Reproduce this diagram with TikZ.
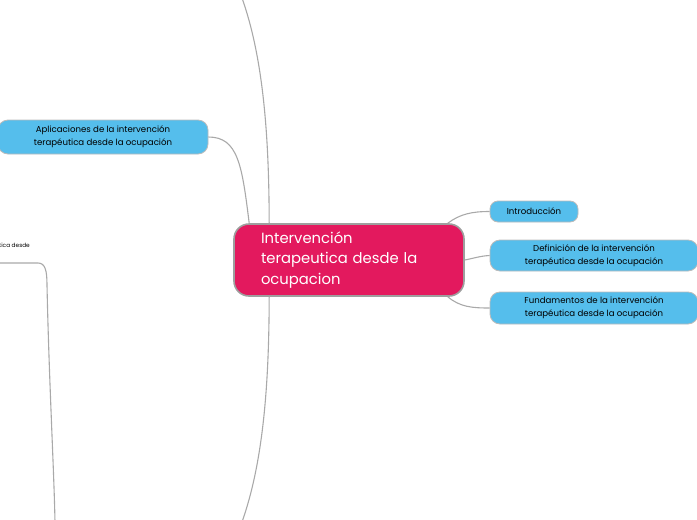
\documentclass[tikz,border=0pt]{standalone}
\usepackage{fontspec}
\setmainfont{Poppins}
\definecolor{crim}{HTML}{E3195E}
\definecolor{sky}{HTML}{55BEEC}
\definecolor{edgegray}{HTML}{A9A9A9}
\definecolor{bordergray}{HTML}{9E9E9E}
\begin{document}
\begin{tikzpicture}[x=1pt,y=-1pt,
  conn/.style={draw=edgegray, line width=1.1pt},
  central/.style={draw=bordergray, line width=1.6pt, fill=crim, rounded corners=15pt,
    minimum width=230pt, minimum height=72pt, text width=176pt, align=left,
    text=white, font=\fontsize{14.8}{20.5}\selectfont, inner sep=0pt},
  topic/.style={draw=bordergray!70, line width=0.8pt, fill=sky, rounded corners=10pt,
    align=center, text=black, font=\fontsize{8.6}{13}\selectfont, inner sep=0pt},
  small/.style={font=\fontsize{5.8}{7}\selectfont, inner sep=0pt, anchor=east}]
\useasboundingbox (0,0) rectangle (697,520);
\clip (0,0) rectangle (697,520);

\node[central] (cen) at (349,260) {Intervención\\terapeutica desde la\\ocupacion};

\node[topic, minimum width=210pt, minimum height=34pt] (apl) at (103,137)
  {Aplicaciones de la intervención\\terapéutica desde la ocupación};
\node[topic, minimum width=88pt, minimum height=21pt, rounded corners=8pt] (intro) at (534,211.5)
  {Introducción};
\node[topic, minimum width=208pt, minimum height=31pt] (defi) at (594,255.5)
  {Definición de la intervención\\terapéutica desde la ocupación};
\node[topic, minimum width=208pt, minimum height=32pt] (fund) at (594,308)
  {Fundamentos de la intervención\\terapéutica desde la ocupación};

\node[small] (cut) at (30,246) {terapéutica desde};

\coordinate (topEnd) at (242,-2);
\coordinate (botEnd) at (242,522);
\coordinate (lbStart) at (-2,263);
\coordinate (lbEnd) at (55,522);

% connectors
\draw[conn] ([xshift=16pt]cen.north west) .. controls (242,165) and (238,137) .. (apl.east);
\draw[conn] ([xshift=36pt]cen.north west) .. controls (269,140) and (264,60) .. (topEnd);
\draw[conn] ([xshift=36pt]cen.south west) .. controls (269,380) and (264,460) .. (botEnd);
\draw[conn] ([xshift=-17pt]cen.north east) .. controls (460,214) and (472,211.5) .. (intro.west);
\draw[conn] (cen.east) .. controls (475,258) and (480,256) .. (defi.west);
\draw[conn] ([xshift=-17pt]cen.south east) .. controls (460,307) and (472,308) .. (fund.west);

\draw[conn] (lbStart) -- (38,263) .. controls (45,263) and (47,270) .. (47,285)
  .. controls (49,380) and (54,470) .. (lbEnd);
\end{tikzpicture}
\end{document}
